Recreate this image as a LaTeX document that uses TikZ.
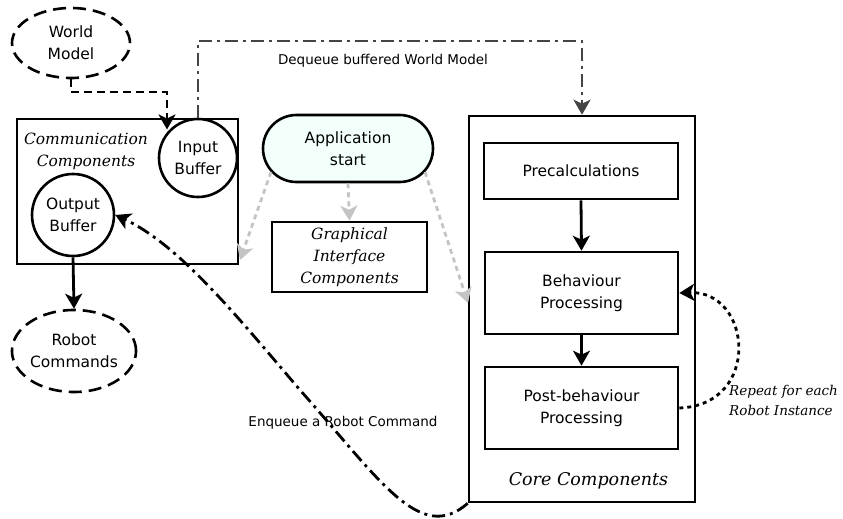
\documentclass[tikz,border=0pt]{standalone}
\usepackage{fontspec}
\setmainfont{DejaVu Sans}
\newfontfamily\dvserif{DejaVu Serif}
\usetikzlibrary{shapes.geometric,shapes.misc,arrows.meta,calc}
\definecolor{mint}{HTML}{F2FFFA}
\definecolor{lightgr}{HTML}{C4C4C4}
\definecolor{darkgr}{HTML}{444444}
\tikzset{
  box/.style={draw, line width=2.6pt, inner sep=0pt, align=center, font=\fontsize{15.5}{22}\selectfont},
  circ/.style={box, circle, fill=white},
  ell/.style={box, ellipse, dash pattern=on 13pt off 7pt},
  ital/.style={inner sep=0pt, align=center, font=\dvserif\itshape\fontsize{15.5}{22}\selectfont},
  lbl/.style={inner sep=0pt, font=\fontsize{13.5}{16}\selectfont},
  tipb/.style={-{Stealth[length=15pt,width=17pt,inset=4pt]}},
  solidarr/.style={tipb, line width=2.8pt},
  grayarr/.style={-{Stealth[length=15pt,width=17pt,inset=4pt]}, draw=lightgr, line width=2.8pt, dash pattern=on 5pt off 4pt},
}
\begin{document}
\begin{tikzpicture}[x=1pt,y=-1pt]
\path[use as bounding box] (0,0) rectangle (843,519);

% communication components
\node[box, minimum width=221, minimum height=145] (comm) at (127.5,191.5) {};
\node[ital] (commlbl) at (86,151) {Communication\\Components};
\node[circ, minimum size=78] (ib) at (198,158) {Input\\Buffer};
\node[circ, minimum size=82] (ob) at (73,215) {Output\\Buffer};
\node[ell, minimum width=118, minimum height=70] (wm) at (71,43) {World\\Model};
\node[ell, minimum width=114, minimum height=82] (rc) at (74,351) {Robot\\Commands};

% application
\node[box, rounded rectangle, fill=mint, minimum width=170, minimum height=67] (as) at (348,148.5) {Application\\start};
\node[box, minimum width=155, minimum height=70, font=\dvserif\itshape\fontsize{15.5}{22}\selectfont] (gi) at (349.5,257) {Graphical\\Interface\\Components};

% core
\node[box, minimum width=226, minimum height=386] (core) at (582,309) {};
\node[box, minimum width=194, minimum height=56] (pre) at (581,171) {Precalculations};
\node[box, minimum width=193, minimum height=82] (beh) at (581.5,293) {Behaviour\\Processing};
\node[box, minimum width=193, minimum height=82] (post) at (581.5,408) {Post-behaviour\\Processing};
\node[ital, font=\dvserif\itshape\fontsize{17.5}{22}\selectfont] (corelbl) at (588.5,481) {Core Components};
\node[ital, align=left, anchor=west, font=\dvserif\itshape\fontsize{13.5}{20}\selectfont] (rep) at (729,400) {Repeat for each\\Robot Instance};

\node[lbl] (dqlbl) at (383,61) {Dequeue buffered World Model};
\node[lbl] (enlbl) at (343,423) {Enqueue a Robot Command};

% connectors
\coordinate (wmk) at (167,92);
\draw[tipb, line width=2.8pt, dash pattern=on 8pt off 5pt] (wm.south) |- (wmk) -- (wmk |- ib.north west);
\draw[solidarr] (ob.south) -- (rc.north);

\coordinate (dq) at (582,41);
\draw[-{Stealth[length=15pt,width=17pt,inset=4pt]}, draw=darkgr, line width=2.8pt,
      dash pattern=on 13pt off 5pt on 3pt off 5pt] (ib.north) |- (dq) -- (core.north);

\coordinate (gl) at (240,260);
\coordinate (gr) at (468,303);
\draw[grayarr] ($(as.center)+(-77,23.5)$) -- (gl);
\draw[grayarr] (as.south) -- (gi.north);
\draw[grayarr] ($(as.center)+(77,23.5)$) -- (gr);

\draw[solidarr] (pre.south) -- (beh.north);
\draw[solidarr] (beh.south) -- (post.north);

\draw[tipb, line width=2.8pt, dash pattern=on 4pt off 4pt] (post.east) .. controls (762,405) and (752,290) .. (beh.east);

\draw[tipb, line width=2.8pt, dash pattern=on 13pt off 5pt on 3pt off 5pt]
  (core.south west) .. controls (420,545) and (380,480) .. (300,390)
  .. controls (240,320) and (180,245) .. (ob.east);
\end{tikzpicture}
\end{document}
